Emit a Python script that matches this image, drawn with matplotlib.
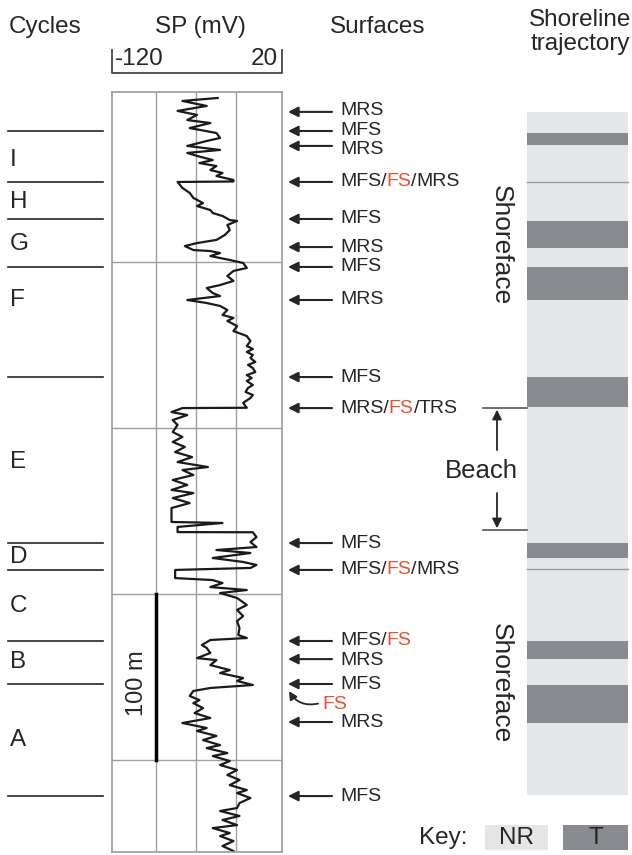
import matplotlib
matplotlib.use('Agg')
import matplotlib.pyplot as plt
from matplotlib.offsetbox import TextArea, HPacker, AnnotationBbox

plt.rcParams['font.family'] = ['Liberation Sans', 'DejaVu Sans']

# SP log: depth below top of log (m) and SP reading (mV)
depth = [1.2, 3.0, 6.0, 9.0, 11.4, 14.5, 16.3, 19.3, 22.3, 25.3, 27.1, 30.1, 32.5, 34.3, 36.1,
         38.6, 40.4, 42.2, 44.6, 46.4, 48.2, 50.6, 51.5, 51.8, 55.4, 58.4, 61.4, 64.5, 66.3,
         68.7, 70.5, 72.3, 74.7, 75.3, 77.7, 80.7, 83.7, 86.7, 88.6, 90.4, 92.8, 93.4, 94.6,
         96.4, 98.8, 100.6, 103.6, 105.4, 108.4, 111.4, 113.9, 115.7, 118.7, 120.5, 122.9,
         124.7, 126.5, 128.9, 131.9, 133.7, 135.5, 138.6, 141.6, 144.6, 147.6, 150.6,
         152.4, 154.2, 156.0, 157.8, 160.2, 162.0, 163.9, 166.3, 168.1, 169.9, 171.7, 174.1,
         175.9, 178.3, 180.1, 181.9, 184.9, 187.8, 188.0, 190.4, 192.2, 195.2, 198.2, 202.4,
         205.4, 208.4, 211.4, 214.5, 217.5, 220.5, 223.5, 225.3, 228.3, 231.3, 234.3, 237.3,
         239.2, 242.2, 245.2, 248.2, 256.6, 257.2, 259.6, 262.7, 262.8, 265.7, 268.7, 271.7,
         273.5, 275.3, 278.3, 280.7, 282.5, 284.3, 285.5, 290.4, 291.6, 293.4, 295.8, 297.6,
         299.4, 302.4, 306.6, 309.6, 313.3, 316.3, 320.5, 324.7, 326.5, 327.7, 330.7, 332.5,
         335.5, 338.6, 339.8, 342.8, 345.8, 347.6, 350.6, 352.4, 354.8, 356.6, 358.4, 361.4,
         363.9, 365.7, 368.7, 371.7, 374.7, 377.7, 380.7, 382.5, 385.5, 388.0, 391.0, 392.8,
         395.8, 397.6, 400.6, 403.0, 406.0, 409.0, 412.0, 415.1, 418.1, 419.9, 422.9, 425.9,
         428.9, 430.7, 433.7, 436.1, 439.2, 441.0, 444.0, 445.8, 448.8, 451.8, 454.8]
sp = [-33, -62, -42, -66, -50, -58, -39, -56, -34, -31, -42, -58, -31, -58, -50,
      -37, -48, -34, -39, -29, -34, -20, -20, -66, -62, -56, -53, -45, -50,
      -39, -37, -29, -23, -17, -25, -23, -27, -34, -50, -60, -53, -39, -31,
      -39, -23, -12, -9, -20, -25, -20, -31, -42, -37, -31, -58,
      -42, -31, -25, -29, -20, -25, -17, -20, -9, -6, -9,
      -4, -9, -4, -6, -2, -8, -4, -2, -9, -5, -9, -4,
      -8, -10, -4, -6, -12, -9, -62, -71, -58, -70, -66, -70,
      -62, -70, -60, -68, -54, -66, -41, -62, -53, -70, -58, -71,
      -53, -70, -56, -71, -71, -29, -66, -66, -4, -1, -6, -1,
      -34, -6, -37, -12, -1, -6, -68, -68, -37, -29, -39, -9,
      -31, -17, -9, -17, -12, -17, -15, -16, -9, -39, -46, -42,
      -39, -50, -34, -39, -23, -31, -12, -17, -4, -39, -53, -56,
      -48, -53, -45, -52, -39, -62, -42, -50, -34, -45, -31, -42,
      -25, -37, -23, -31, -17, -25, -15, -23, -9, -17, -6, -15,
      -17, -31, -15, -29, -17, -37, -23, -31, -20, -29, -20]

sp_ticks = [-84, -51, -18]
depth_ticks = [100, 200, 300, 400]

cycle_bounds = [21.1, 51.8, 74.1, 103.0, 169.3, 269.3, 285.5, 328.3, 354.2, 421.7]
cycle_names = ['I', 'H', 'G', 'F', 'E', 'D', 'C', 'B', 'A']
cycle_mid = [38.6, 63.9, 89.2, 122.9, 220.5, 277.7, 307.2, 341.0, 388.0]

surf_names = ['MRS', 'MFS', 'MRS', 'MFS/FS/MRS', 'MFS', 'MRS', 'MFS', 'MRS', 'MFS',
              'MRS/FS/TRS', 'MFS', 'MFS/FS/MRS', 'MFS/FS', 'MRS', 'MFS', 'MRS', 'MFS']
surf_depth = [9.6, 21.1, 30.1, 51.8, 74.1, 91.0, 103.0, 122.9, 169.3,
              188.0, 269.3, 285.5, 328.3, 339.2, 354.2, 377.1, 421.7]
label_depth = [8.6, 20.6, 32.4, 51.8, 74.1, 91.0, 103.0, 122.9, 169.3,
               188.0, 269.3, 285.5, 327.8, 339.9, 354.2, 377.1, 421.7]

traj_top, traj_base = 9.6, 421.1
t_top = [22.3, 75.3, 103.0, 169.3, 269.3, 328.3, 354.8]
t_base = [29.5, 91.6, 122.9, 187.3, 278.3, 339.2, 377.7]
thin_lines = [51.8, 284.9]
beach = [188.0, 261.4]

light = '#e4e7ea'
dark = '#888b8f'
ink = '#262626'
red = '#e8502f'

fig = plt.figure(figsize=(6.32, 8.55), dpi=100)
ax = fig.add_axes([0, 0, 1, 1])
ax.set_xlim(0, 632)
ax.set_ylim(457.2, -57.8)
ax.axis('off')

# headers
hfs = 17.5
fig.text(45 / 632, 1 - 27 / 855, 'Cycles', ha='center', va='center', fontsize=hfs, color=ink)
fig.text(200 / 632, 1 - 27 / 855, 'SP (mV)', ha='center', va='center', fontsize=hfs, color=ink)
fig.text(378 / 632, 1 - 27 / 855, 'Surfaces', ha='center', va='center', fontsize=hfs, color=ink)
fig.text(580 / 632, 1 - 20 / 855, 'Shoreline', ha='center', va='center', fontsize=hfs, color=ink)
fig.text(580 / 632, 1 - 44 / 855, 'trajectory', ha='center', va='center', fontsize=hfs, color=ink)

# cycles
for d in cycle_bounds:
    ax.plot([8, 103], [d, d], color=ink, lw=1.2)
for name, d in zip(cycle_names, cycle_mid):
    ax.text(10, d, name, ha='left', va='center', fontsize=hfs, color=ink)

# SP log
lax = fig.add_axes([112 / 632, 3 / 855, 170 / 632, 760 / 855])
lax.plot(sp, depth, color='#1a1a1a', lw=1.6)
lax.set_xlim(-120, 20)
lax.set_ylim(455.4, -2.4)
for x in sp_ticks:
    lax.axvline(x, color='#a0a0a0', lw=1.0, zorder=0)
for d in depth_ticks:
    lax.axhline(d, color='#a0a0a0', lw=1.0, zorder=0)
lax.set_xticks([])
lax.set_yticks([])
for s in lax.spines.values():
    s.set_color('#9a9a9a')
    s.set_linewidth(1.2)
lax.plot([-84, -84], [300, 400], color='k', lw=2.5)
lax.text(-99, 354, '100 m', rotation=90, ha='center', va='center', fontsize=17, color=ink)
# scale bracket
lax.plot([-120, -120, 20, 20], [-27.7, -13.9, -13.9, -27.7], color='#444444', lw=1.3, clip_on=False)
lax.text(-117.5, -22.5, '-120', ha='left', va='center', fontsize=hfs, color=ink, clip_on=False)
lax.text(17, -22.5, '20', ha='right', va='center', fontsize=hfs, color=ink, clip_on=False)

# surfaces
sfs = 14
for name, d, dl in zip(surf_names, surf_depth, label_depth):
    ax.annotate('', xy=(288, d), xytext=(332, d),
                arrowprops=dict(arrowstyle='-|>', color=ink, lw=1.5, mutation_scale=15,
                                shrinkA=0, shrinkB=0))
    parts = name.split('/')
    boxes = []
    for i, p in enumerate(parts):
        txt = p + ('/' if i < len(parts) - 1 else '')
        if p == 'FS':
            boxes.append(TextArea('FS', textprops=dict(color=red, fontsize=sfs)))
            if i < len(parts) - 1:
                boxes.append(TextArea('/', textprops=dict(color=ink, fontsize=sfs)))
        else:
            boxes.append(TextArea(txt, textprops=dict(color=ink, fontsize=sfs)))
    pack = HPacker(children=boxes, align='baseline', pad=0, sep=0)
    ab = AnnotationBbox(pack, (340, dl), box_alignment=(0, 0.5), frameon=False, pad=0)
    ax.add_artist(ab)

# extra FS with curved arrow
ax.annotate('', xy=(289, 358.5), xytext=(318, 366.0),
            arrowprops=dict(arrowstyle='-|>', color=ink, lw=1.3, mutation_scale=12,
                            shrinkA=0, shrinkB=0, connectionstyle='arc3,rad=-0.35'))
ax.text(322, 366.3, 'FS', ha='left', va='center', fontsize=sfs, color=red)

# shoreline trajectory column
ax.bar(527, traj_base - traj_top, bottom=traj_top, width=101, align='edge', color=light, lw=0)
for a, b in zip(t_top, t_base):
    ax.bar(527, b - a, bottom=a, width=101, align='edge', color=dark, lw=0)
for d in thin_lines:
    ax.plot([527, 628], [d, d], color='#9a9da1', lw=1.0)

ax.text(501, 89.8, 'Shoreface', rotation=-90, ha='center', va='center', fontsize=19, color=ink)
ax.text(501, 353.6, 'Shoreface', rotation=-90, ha='center', va='center', fontsize=19, color=ink)

# beach interval
for d in beach:
    ax.plot([483, 527], [d, d], color='#555555', lw=1.2)
ax.annotate('', xy=(497, beach[0] + 1), xytext=(497, 213.3),
            arrowprops=dict(arrowstyle='-|>', color=ink, lw=1.3, mutation_scale=14,
                            shrinkA=0, shrinkB=0))
ax.annotate('', xy=(497, beach[1] - 1), xytext=(497, 239.2),
            arrowprops=dict(arrowstyle='-|>', color=ink, lw=1.3, mutation_scale=14,
                            shrinkA=0, shrinkB=0))
ax.text(481, 226.0, 'Beach', ha='center', va='center', fontsize=18.5, color=ink)

# key
fig.text(443 / 632, 1 - 838 / 855, 'Key:', ha='center', va='center', fontsize=hfs, color=ink)
ax.bar(485, 15, bottom=439.2, width=63, align='edge', color='#e3e5e7', lw=0)
ax.bar(563, 15, bottom=439.2, width=65, align='edge', color=dark, lw=0)
ax.text(516.5, 446.9, 'NR', ha='center', va='center', fontsize=hfs, color=ink)
ax.text(595.5, 446.9, 'T', ha='center', va='center', fontsize=hfs, color=ink)

fig.savefig('out.png', dpi=100)
